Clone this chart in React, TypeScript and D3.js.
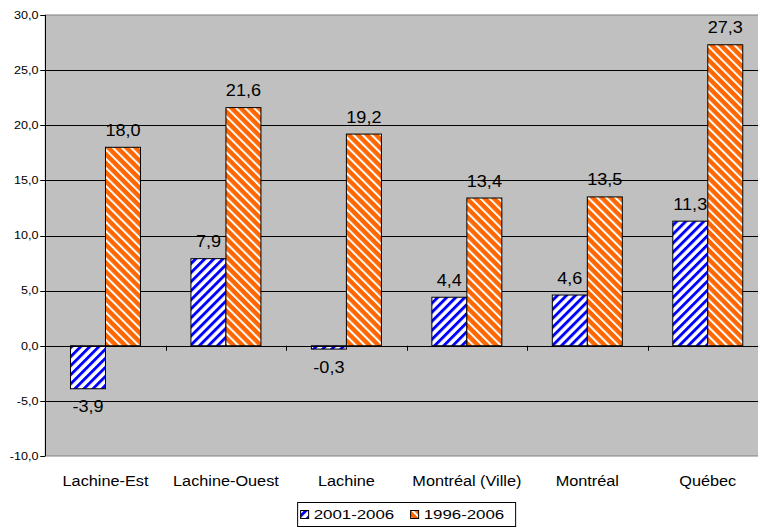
import React from "react";
import * as d3 from "d3";

const categories = ["Lachine-Est", "Lachine-Ouest", "Lachine", "Montréal (Ville)", "Montréal", "Québec"];
const series2001 = [-3.9, 7.9, -0.3, 4.4, 4.6, 11.3];
const series1996 = [18.0, 21.6, 19.2, 13.4, 13.5, 27.3];
const seriesNames = ["2001-2006", "1996-2006"];
const yTicks = [-10, -5, 0, 5, 10, 15, 20, 25, 30];

const W = 758;
const H = 529;
const plotLeft = 45.25;
const plotRight = 768;
const plotTop = 15;
const plotBottom = 456;
const FONT = "'Liberation Sans', Arial, sans-serif";
const P = 6.4;

const fmt = (v: number) => v.toFixed(1).replace(".", ",");

export default function App() {
  const x = d3
    .scaleBand<string>()
    .domain(categories)
    .range([plotLeft, plotRight])
    .paddingInner(0.419)
    .paddingOuter(0.2095);
  const bw = x.bandwidth() / 2;
  const y = d3.scaleLinear().domain([-10, 30]).range([plotBottom, plotTop]);
  const y0 = y(0);
  const step = x.step();

  const series = [
    { name: seriesNames[0], values: series2001, fill: "url(#patBlue)", off: 0 },
    { name: seriesNames[1], values: series1996, fill: "url(#patOrange)", off: 1 },
  ];

  const legendCx = (plotLeft + plotRight) / 2;

  return (
    <svg
      width={W}
      height={H}
      style={{ position: "absolute", left: 0, top: 0, display: "block" }}
      fontFamily={FONT}
    >
      <defs>
        <pattern id="patBlue" patternUnits="userSpaceOnUse" width={P} height={P} patternTransform="rotate(45)">
          <rect width={P} height={P} fill="#ffffff" />
          <rect width={2.9} height={P} fill="#0000ff" />
        </pattern>
        <pattern id="patOrange" patternUnits="userSpaceOnUse" width={P} height={P} patternTransform="rotate(-45)">
          <rect width={P} height={P} fill="#ff6600" />
          <rect width={2} height={P} fill="#ffffff" />
        </pattern>
      </defs>
      <rect x={0} y={0} width={W} height={H} fill="#ffffff" />
      {/* plot area */}
      <rect x={plotLeft} y={plotTop} width={plotRight - plotLeft} height={plotBottom - plotTop} fill="#c0c0c0" stroke="#808080" strokeWidth={1} />
      {/* gridlines */}
      {yTicks
        .filter((t) => t !== -10 && t !== 30)
        .map((t) => (
          <line key={t} x1={plotLeft} x2={plotRight} y1={Math.round(y(t)) + 0.5} y2={Math.round(y(t)) + 0.5} stroke="#000" strokeWidth={1} />
        ))}
      {/* bars */}
      {series.map((s) =>
        s.values.map((v, i) => {
          const bx = (x(categories[i]) as number) + s.off * bw;
          const top = Math.min(y(v), y0);
          const h = Math.abs(y(v) - y0);
          return (
            <rect key={s.name + i} x={bx} y={top} width={bw} height={h} fill={s.fill} stroke="#000" strokeWidth={1} />
          );
        })
      )}
      {/* category axis at zero with ticks */}
      <line x1={plotLeft} x2={plotRight} y1={Math.round(y0) + 0.5} y2={Math.round(y0) + 0.5} stroke="#000" strokeWidth={1} />
      {d3.range(1, categories.length).map((k) => {
        const tx = Math.round(plotLeft + step * k) + 0.5;
        return <line key={k} x1={tx} x2={tx} y1={y0} y2={y0 + 5} stroke="#000" strokeWidth={1} />;
      })}
      {/* value axis */}
      <line x1={Math.round(plotLeft) + 0.5} x2={Math.round(plotLeft) + 0.5} y1={plotTop} y2={plotBottom} stroke="#000" strokeWidth={1} />
      {yTicks.map((t) => (
        <g key={t}>
          <line x1={plotLeft - 5} x2={plotLeft} y1={Math.round(y(t)) + 0.5} y2={Math.round(y(t)) + 0.5} stroke="#000" strokeWidth={1} />
          <text transform={`translate(38.5,${y(t) + 3.8}) scale(1.2,1)`} textAnchor="end" fontSize={10.5} fill="#000">
            {fmt(t)}
          </text>
        </g>
      ))}
      {/* value labels */}
      {series.map((s) =>
        s.values.map((v, i) => {
          const cx = (x(categories[i]) as number) + s.off * bw + bw / 2;
          const ly = v >= 0 ? y(v) - 11.5 : y(v) + 23.5;
          return (
            <text key={"l" + s.name + i} transform={`translate(${cx},${ly}) scale(1.13,1)`} textAnchor="middle" fontSize={16} fill="#000">
              {fmt(v)}
            </text>
          );
        })
      )}
      {/* category labels */}
      {categories.map((c) => (
        <text key={c} transform={`translate(${(x(c) as number) + x.bandwidth() / 2},486) scale(1.05,1)`} textAnchor="middle" fontSize={15.5} fill="#000">
          {c}
        </text>
      ))}
      {/* legend */}
      <g>
        <rect x={legendCx - 109} y={502.5} width={218} height={24} fill="#fff" stroke="#000" strokeWidth={1} />
        {series.map((s, k) => {
          const lx = legendCx - 106 + k * 110;
          return (
            <g key={s.name}>
              <rect x={lx} y={510.5} width={8} height={8} fill={s.fill} stroke="#000" strokeWidth={1} />
              <text transform={`translate(${lx + 13},${519}) scale(1.25,1)`} fontSize={13.5} fill="#000">
                {s.name}
              </text>
            </g>
          );
        })}
      </g>
    </svg>
  );
}
